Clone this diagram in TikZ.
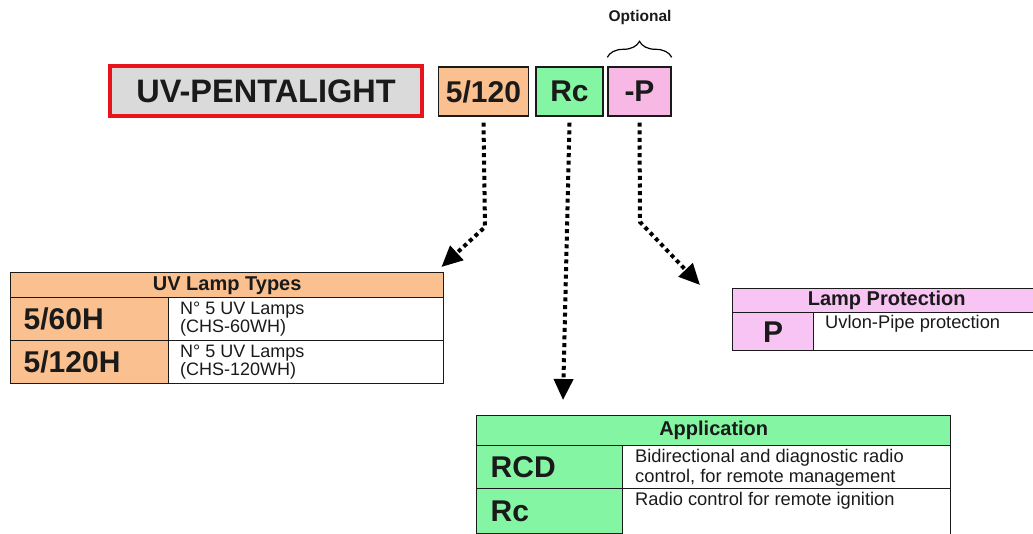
\documentclass[tikz,border=0pt]{standalone}
\usepackage{fontspec}
\setmainfont{Liberation Sans}
\usetikzlibrary{arrows.meta,decorations.pathreplacing}

\definecolor{peach}{HTML}{FAC090}
\definecolor{mint}{HTML}{84F5A2}
\definecolor{rose}{HTML}{F7B8E6}
\definecolor{lilac}{HTML}{F8C4F4}
\definecolor{namered}{HTML}{E8141C}
\definecolor{namegray}{HTML}{DADADA}
\definecolor{ink}{HTML}{1A1A1A}

\newcommand{\BigCode}{\fontsize{30}{30}\selectfont\bfseries}

\tikzset{
  codebox/.style={draw=ink, line width=1.4pt, minimum height=49pt, inner sep=0pt, font=\BigCode},
  cell/.style={draw=ink, line width=1.4pt, anchor=north west, inner sep=0pt},
  headcell/.style={cell, font=\fontsize{20}{20}\selectfont\bfseries},
  codecell/.style={cell, inner xsep=13pt, align=left, font=\BigCode},
  desctext/.style={anchor=north west, inner sep=0pt, align=left, text=ink, font=\fontsize{18.3}{20}\selectfont},
  pointer/.style={line width=4pt, dash pattern=on 4pt off 3.6pt, -{Triangle[length=21pt,width=19pt]}},
}

\begin{document}
\begin{tikzpicture}[x=1pt, y=-1pt, text=ink]
    \useasboundingbox (0,0) rectangle (1033,533);
    % product code
    \node[draw=namered, fill=namegray, line width=4pt, minimum width=312pt, minimum height=50pt,
          inner sep=0pt, font=\fontsize{32.5}{32.5}\selectfont\bfseries] (name) at (266,91) {UV-PENTALIGHT};
    \node[codebox, fill=peach, minimum width=90pt] (size) at (483.5,91.5) {5/120};
    \node[codebox, fill=mint, minimum width=67pt] (ctrl) at (569.5,91.5) {Rc};
    \node[codebox, fill=rose, minimum width=63pt] (prot) at (639.5,91.5) {-P};
    \draw[decorate, decoration={brace, amplitude=16pt}, line width=1.2pt]
      ([yshift=9pt]prot.north west) -- ([yshift=9pt]prot.north east);
    \node[font=\fontsize{15.5}{15.5}\selectfont\bfseries] (optional) at (640,17) {Optional};
    %
    % UV lamp types
    \node[headcell, fill=peach, minimum width=433pt, minimum height=25pt] (lamphead) at (10,272) {UV Lamp Types};
    \node[codecell, fill=peach, text width=132pt, minimum height=43pt] (lamp60) at (10,297) {5/60H};
    \node[cell, minimum width=275pt, minimum height=43pt] (lamp60d) at (168,297) {};
    \node[codecell, fill=peach, text width=132pt, minimum height=43pt] (lamp120) at (10,340) {5/120H};
    \node[cell, minimum width=275pt, minimum height=43pt] (lamp120d) at (168,340) {};
    \node[desctext, font=\fontsize{18}{15}\selectfont] at ([shift={(12pt,-5pt)}]lamp60d.north west) {N° 5 UV Lamps\\(CHS-60WH)};
    \node[desctext, font=\fontsize{18}{15}\selectfont] at ([shift={(12pt,-5pt)}]lamp120d.north west) {N° 5 UV Lamps\\(CHS-120WH)};
    %
    % lamp protection
    \node[headcell, fill=lilac, minimum width=308pt, minimum height=24pt] (prothead) at (732,288) {Lamp Protection};
    \node[cell, fill=lilac, minimum width=81pt, minimum height=38pt, font=\BigCode] (protp) at (732,312) {P};
    \node[cell, minimum width=227pt, minimum height=38pt] (protpd) at (813,312) {};
    \node[desctext] at ([shift={(12pt,-3pt)}]protpd.north west) {Uvlon-Pipe protection};
    %
    % application
    \node[headcell, fill=mint, minimum width=474pt, minimum height=30pt] (apphead) at (476,415) {Application};
    \node[codecell, inner xsep=14pt, fill=mint, text width=118pt, minimum height=43pt] (apprcd) at (476,445) {RCD};
    \node[cell, minimum width=328pt, minimum height=43pt] (apprcdd) at (622,445) {};
    \node[codecell, inner xsep=14pt, fill=mint, text width=118pt, minimum height=45pt] (apprc) at (476,488) {Rc};
    \node[cell, minimum width=328pt, minimum height=50pt] (apprcd2) at (622,488) {};
    \node[desctext] at ([shift={(13pt,-4pt)}]apprcdd.north west) {Bidirectional and diagnostic radio\\control, for remote management};
    \node[desctext] at ([shift={(13pt,-4pt)}]apprcd2.north west) {Radio control for remote ignition};
    %
    % pointers
    \coordinate (sizebend) at (485,227);
    \coordinate (protbend) at (640,222);
    \draw[pointer] ([yshift=-6pt]size.south) -- (sizebend) -- ([shift={(-3pt,5pt)}]lamphead.north east);
    \draw[pointer] ([yshift=-6pt]ctrl.south) -- ([shift={(87pt,15pt)}]apphead.north west);
    \draw[pointer] ([yshift=-6pt]prot.south) -- (protbend) -- ([shift={(-32pt,3pt)}]prothead.north west);
\end{tikzpicture}
\end{document}
